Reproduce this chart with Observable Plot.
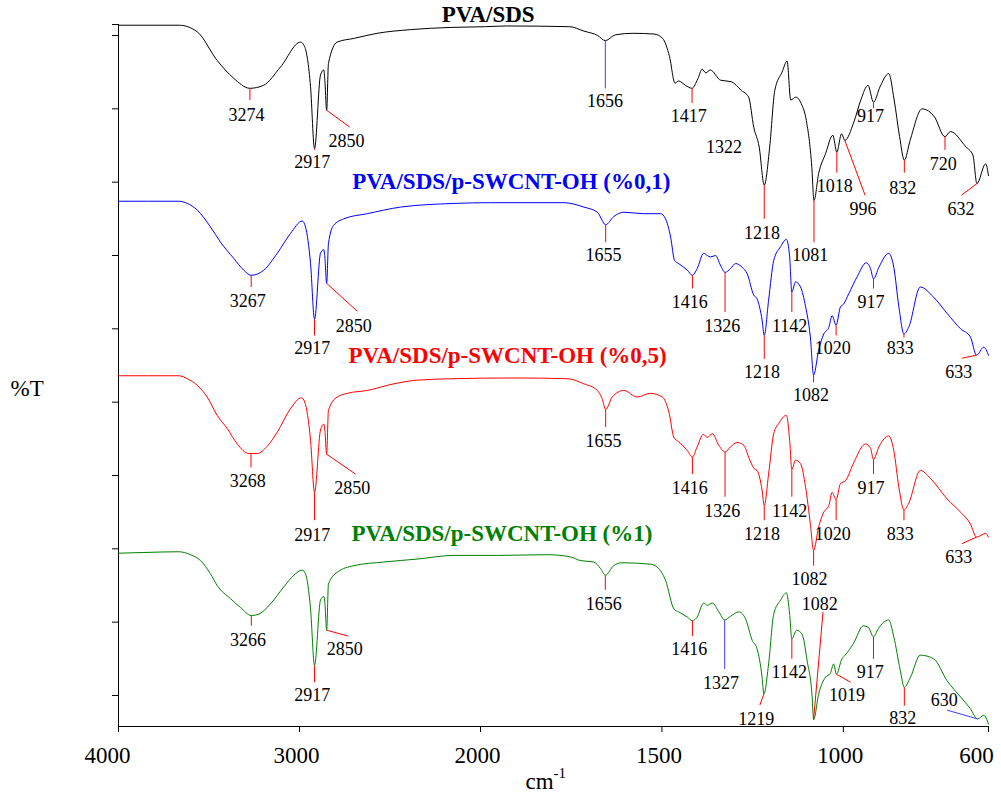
<!DOCTYPE html>
<html>
<head>
<meta charset="utf-8">
<script src="https://cdn.jsdelivr.net/npm/d3@7"></script>
<script src="https://cdn.jsdelivr.net/npm/@observablehq/plot@0.6"></script>
<style>
  html, body { margin: 0; padding: 0; background: #ffffff; }
  #chart svg { display: block; }
  #chart svg, #chart svg text { font-family: 'Liberation Serif', 'Times New Roman', Times, serif !important; }
</style>
</head>
<body>
<div id="chart"></div>
<script>
// FTIR spectra (wavenumber in cm-1, %T with a vertical offset per sample)

const pvaSds = [
  [4000,91.4],[3663,91.4],[3565,90.5],[3455,86.6],[3365,84.2],[3274,82.8],[3199,83.2],[3105,85.7],
  [2994,89.1],[2972,88.5],[2939,83.0],[2917,74.6],[2884,84.6],[2866,85.3],[2860,83.9],[2850,79.8],
  [2840,86.2],[2792,89.1],[2700,89.6],[2571,90.3],[2387,90.8],[2166,91.1],[1986,91.2],[1928,91.3],
  [1754,91.2],[1715,90.6],[1677,90.0],[1656,89.3],[1628,90.1],[1580,90.3],[1522,90.2],[1498,89.6],
  [1479,87.1],[1464,83.5],[1454,83.8],[1435,83.2],[1417,82.8],[1401,84.1],[1389,85.4],[1379,84.9],
  [1367,85.3],[1338,83.9],[1309,83.7],[1281,82.5],[1261,81.6],[1247,77.5],[1232,74.8],[1218,69.6],
  [1203,74.8],[1189,82.5],[1169,85.0],[1155,86.5],[1145,81.2],[1131,81.6],[1116,80.7],[1102,78.4],
  [1087,72.1],[1081,67.5],[1068,71.2],[1049,73.9],[1029,76.4],[1018,74.1],[1005,76.6],[996,75.7],
  [971,78.2],[952,81.2],[932,83.2],[917,80.9],[899,83.0],[875,84.8],[860,81.2],[845,76.2],
  [832,73.0],[816,75.7],[783,80.0],[749,78.9],[720,76.2],[705,76.9],[662,74.8],[643,73.7],
  [632,69.8],[608,72.5],[600,70.9]
];

const swcnt01 = [
  [4000,67.4],[3667,67.4],[3620,67.1],[3565,66.2],[3492,63.9],[3436,61.8],[3363,59.6],[3308,58.0],
  [3267,57.3],[3197,58.0],[3123,60.3],[3050,63.0],[2985,64.7],[2967,63.9],[2939,58.9],[2917,51.3],
  [2884,60.3],[2866,60.8],[2860,59.8],[2850,56.2],[2840,61.6],[2812,64.1],[2755,65.0],[2626,65.7],
  [2442,66.6],[2147,67.1],[1972,67.2],[1770,67.2],[1715,66.6],[1678,65.9],[1655,64.2],[1633,65.3],
  [1605,65.9],[1550,65.7],[1504,65.7],[1490,65.0],[1476,62.5],[1465,59.3],[1454,58.9],[1430,58.0],
  [1416,57.3],[1403,58.2],[1385,60.3],[1375,60.0],[1366,59.8],[1352,60.0],[1339,58.7],[1326,57.7],
  [1311,58.2],[1297,58.9],[1279,58.4],[1265,57.5],[1247,54.6],[1238,54.1],[1224,51.2],[1218,49.1],
  [1206,53.9],[1192,59.3],[1173,61.2],[1157,62.2],[1148,59.8],[1142,55.0],[1132,56.4],[1118,55.7],
  [1104,53.0],[1091,48.9],[1082,43.7],[1068,47.1],[1054,49.3],[1040,50.2],[1031,51.8],[1020,50.5],
  [1008,53.0],[999,53.4],[985,54.8],[962,57.1],[937,59.0],[925,58.2],[917,56.8],[902,58.4],
  [875,60.3],[861,58.4],[847,53.0],[833,49.3],[820,50.2],[788,55.7],[751,54.3],[714,52.1],
  [677,50.0],[650,48.9],[633,46.4],[613,47.5],[600,46.4]
];

const swcnt05 = [
  [4000,43.6],[3667,43.6],[3620,43.2],[3565,42.3],[3510,40.7],[3455,38.2],[3399,36.4],[3344,34.3],
  [3280,33.0],[3268,33.0],[3234,33.0],[3178,34.0],[3123,35.9],[3050,39.1],[2989,40.6],[2971,40.0],
  [2939,34.8],[2917,27.7],[2884,36.2],[2866,37.0],[2860,36.2],[2850,32.9],[2840,38.9],[2792,40.7],
  [2736,41.2],[2626,41.6],[2479,42.5],[2350,43.0],[2147,43.2],[1908,43.3],[1761,43.2],[1715,42.5],
  [1678,41.6],[1665,40.5],[1655,39.0],[1637,40.7],[1605,41.6],[1568,40.7],[1532,41.2],[1499,40.7],
  [1481,38.7],[1467,35.2],[1454,34.6],[1430,33.4],[1416,32.5],[1403,33.9],[1386,35.6],[1375,35.2],
  [1361,35.7],[1343,34.1],[1326,33.2],[1311,33.9],[1293,34.5],[1274,34.1],[1261,32.5],[1245,30.9],
  [1238,30.7],[1224,28.0],[1218,25.9],[1206,30.2],[1192,35.7],[1178,37.1],[1157,38.2],[1148,34.8],
  [1142,30.8],[1132,32.1],[1118,31.6],[1104,28.4],[1091,23.4],[1082,19.8],[1068,23.0],[1054,25.0],
  [1040,25.9],[1031,27.7],[1020,26.7],[1008,28.9],[994,29.3],[971,31.8],[939,34.3],[925,33.7],
  [917,32.2],[902,33.9],[875,35.4],[861,33.4],[847,28.4],[833,25.3],[820,26.2],[788,30.7],
  [760,29.6],[714,26.8],[677,25.0],[650,23.4],[633,21.6],[608,22.1],[600,21.6]
];

const swcnt1 = [
  [4000,19.4],[3860,19.5],[3667,19.6],[3602,19.2],[3547,18.4],[3492,16.6],[3455,15.0],[3381,13.2],
  [3326,12.0],[3266,10.9],[3224,11.1],[3160,12.5],[3087,14.8],[3031,16.4],[2985,17.1],[2967,16.6],
  [2939,11.8],[2917,4.1],[2884,13.0],[2866,13.5],[2860,12.7],[2850,8.9],[2840,15.2],[2792,16.8],
  [2700,17.7],[2534,18.2],[2350,18.6],[2147,19.1],[1954,19.1],[1816,19.2],[1752,18.9],[1725,18.4],
  [1688,18.2],[1669,17.3],[1656,16.4],[1633,17.7],[1610,18.1],[1532,17.9],[1513,17.5],[1490,15.7],
  [1467,11.8],[1454,11.4],[1430,10.7],[1416,10.2],[1403,10.7],[1385,12.6],[1375,12.3],[1361,12.6],
  [1343,11.4],[1327,10.3],[1311,10.8],[1288,11.4],[1270,10.5],[1251,7.5],[1238,6.4],[1224,2.5],
  [1219,0.2],[1206,4.3],[1192,11.1],[1173,13.0],[1157,14.0],[1148,11.1],[1142,7.7],[1129,8.9],
  [1114,8.4],[1100,4.8],[1086,-0.2],[1082,-3.3],[1068,0.2],[1049,2.5],[1036,3.0],[1027,4.3],
  [1019,2.9],[1004,5.0],[995,5.5],[972,7.1],[945,9.5],[931,9.3],[917,8.0],[904,9.1],
  [875,10.3],[861,8.0],[843,3.4],[832,1.1],[815,2.5],[788,5.5],[751,5.0],[714,2.0],
  [677,-0.2],[650,-1.8],[630,-3.2],[613,-2.7],[600,-3.9]
];

// Assigned band positions (cm-1)
const peaksPvaSds  = [3274, 2917, 2850, 1656, 1417, 1322, 1218, 1081, 1018, 996, 917, 832, 720, 632];
const peaksSwcnt01 = [3267, 2917, 2850, 1655, 1416, 1326, 1218, 1142, 1082, 1020, 917, 833, 633];
const peaksSwcnt05 = [3268, 2917, 2850, 1655, 1416, 1326, 1218, 1142, 1082, 1020, 917, 833, 633];
const peaksSwcnt1  = [3266, 2917, 2850, 1656, 1416, 1327, 1219, 1142, 1082, 1019, 917, 832, 630];

const sampleNames = [
  "PVA/SDS",
  "PVA/SDS/p-SWCNT-OH (%0,1)",
  "PVA/SDS/p-SWCNT-OH (%0,5)",
  "PVA/SDS/p-SWCNT-OH (%1)"
];

const xTicks = [4000, 3000, 2000, 1500, 1000, 600];
const yTicks = [0, 10, 20, 30, 40, 50, 60, 70, 80, 90, 91.5];

// ---- annotation layout (label anchor and leader end, in data units) ----
// [textX, textY, leaderX, leaderY, leaderColour]  (leaderX null = no leader)
const placePvaSds = [
  [3293,78.4,3274,81.2,"red"],[2930,71.9,2917,74.4,"red"],[2740,74.8,2722,77.5,"red"],
  [1657,80.3,1656,82.8,"blue"],[1426,78.2,1417,80.8,"red"],[1329,74.0,null,null,null],
  [1224,62.3,1218,65.0,"red"],[1091,59.2,1081,61.8,"red"],[1024,68.6,1018,71.3,"red"],
  [946,65.5,940,68.2,"red"],[925,78.2,917,80.1,"red"],[836,68.4,832,71.3,"red"],
  [725,71.6,720,74.4,"red"],[676,65.5,675,68.2,"red"]
];
const placeSwcnt01 = [
  [3286,53.0,3267,55.7,"red"],[2930,46.5,2917,49.1,"red"],[2700,49.6,2681,52.4,"red"],
  [1661,59.2,1655,61.8,"red"],[1423,52.8,1416,55.5,"red"],[1334,49.6,1326,52.3,"red"],
  [1224,43.3,1218,45.9,"red"],[1148,49.6,1142,52.3,"red"],[1089,40.2,1082,42.7,"red"],
  [1029,46.5,1020,49.1,"red"],[924,52.8,917,55.5,"red"],[843,46.5,833,48.8,"red"],
  [682,43.3,673,46.0,"red"]
];
const placeSwcnt05 = [
  [3286,28.4,3268,31.1,"red"],[2930,21.1,2917,23.9,"red"],[2709,27.5,2691,30.2,"red"],
  [1661,33.9,1655,36.6,"red"],[1423,27.5,1416,30.2,"red"],[1334,24.3,1326,27.1,"red"],
  [1224,21.2,1218,23.9,"red"],[1148,24.3,1142,27.1,"red"],[1093,15.0,1082,17.7,"red"],
  [1029,21.2,1020,23.9,"red"],[924,27.5,917,30.2,"red"],[843,21.2,833,23.9,"red"],
  [682,18.0,673,20.7,"red"]
];
const placeSwcnt1 = [
  [3284,6.8,3266,9.5,"red"],[2930,-0.8,2917,1.8,"red"],[2750,5.5,2731,8.1,"red"],
  [1660,11.7,1656,14.4,"red"],[1425,5.5,1416,8.1,"red"],[1337,0.9,1327,3.6,"blue"],
  [1240,-4.0,1230,-1.3,"red"],[1149,2.4,1142,5.0,"red"],[1065,11.7,1056,11.4,"red"],
  [990,-0.8,980,1.8,"red"],[926,2.4,917,5.0,"red"],[836,-3.9,832,-1.4,"red"],
  [722,-1.5,714,-2.0,"blue"]
];
// sample name anchors: [x, y, textAnchor]
const namePlace = [[1979, 91.8, "middle"], [2709, 69.0, "start"], [2729, 45.3, "start"], [2713, 21.0, "start"]];
const sampleColours = ["#000000", "#0000ff", "#ff0000", "#008000"];

const yMin = -4.23, yMax = 91.5;
const serif = "'Liberation Serif', 'Times New Roman', Times, serif";

const samples = [
  {values: pvaSds, peaks: peaksPvaSds, place: placePvaSds},
  {values: swcnt01, peaks: peaksSwcnt01, place: placeSwcnt01},
  {values: swcnt05, peaks: peaksSwcnt05, place: placeSwcnt05},
  {values: swcnt1, peaks: peaksSwcnt1, place: placeSwcnt1}
].map((s, i) => ({
  ...s,
  // ascending wavenumber order for the monotone curve
  sorted: s.values.slice().sort((a, b) => a[0] - b[0]),
  name: sampleNames[i], colour: sampleColours[i], anchor: namePlace[i]
}));

// %T of a spectrum at the recorded point nearest to a band position
const bandValue = (values, wn) =>
  values.reduce((best, d) => Math.abs(d[0] - wn) < Math.abs(best[0] - wn) ? d : best)[1];

const bands = samples.flatMap(s => s.peaks.map((wn, i) => {
  const [tx, ty, lx, ly, leader] = s.place[i];
  return {wn, y: bandValue(s.values, wn), tx, ty, lx, ly, leader};
}));

const tickText = {tickSize: 0, tickPadding: 20, fontSize: 23, fontFamily: serif, tickFormat: d => String(d), label: null};

const chart = Plot.plot({
  width: 1001,
  height: 798,
  marginTop: 24,
  marginBottom: 72,
  marginLeft: 118,
  marginRight: 13,
  style: {fontFamily: serif, background: "#ffffff", color: "#000000"},
  x: {type: "linear", domain: [4000, 2000, 600], range: [118, 480, 988]},
  y: {domain: [yMin, yMax]},
  marks: [
    // tick marks
    Plot.axisX({ticks: xTicks, tickSize: 6, tickFormat: () => "", label: null}),
    Plot.axisY({ticks: yTicks, tickSize: 6, tickFormat: () => "", label: null}),
    // tick labels (end labels pulled inward)
    Plot.axisX({...tickText, ticks: xTicks.slice(1, -1), dx: -3}),
    Plot.axisX({...tickText, ticks: xTicks.slice(0, 1), dx: -11}),
    Plot.axisX({...tickText, ticks: xTicks.slice(-1), dx: -12}),
    Plot.ruleY([yMin], {stroke: "#000000"}),
    Plot.ruleX([4000], {stroke: "#000000"}),
    ...samples.map(s => Plot.line(s.sorted, {
      x: d => d[0], y: d => d[1], stroke: s.colour, strokeWidth: 1, curve: "monotone-x"
    })),
    Plot.link(bands.filter(b => b.leader === "red"), {x1: "wn", y1: "y", x2: "lx", y2: "ly", stroke: "#ff0000", strokeWidth: 1}),
    Plot.link(bands.filter(b => b.leader === "blue"), {x1: "wn", y1: "y", x2: "lx", y2: "ly", stroke: "#3b3bff", strokeWidth: 1}),
    Plot.text(bands, {x: "tx", y: "ty", text: d => String(d.wn), fontSize: 18, fontFamily: serif, lineAnchor: "bottom", fill: "#000000"}),
    ...samples.map(s => Plot.text([s.name], {
      x: [s.anchor[0]], y: [s.anchor[1]], textAnchor: s.anchor[2],
      fill: s.colour, fontSize: 23, fontWeight: "bold", fontFamily: serif, lineAnchor: "bottom"
    })),
    Plot.text(["%T"], {frameAnchor: "left", y: [40.9], dx: -108, textAnchor: "start", fontSize: 23, fontFamily: serif, lineAnchor: "bottom"}),
    Plot.text(["cm"], {x: [1876], frameAnchor: "bottom", dy: 62, textAnchor: "start", fontSize: 23, fontFamily: serif, lineAnchor: "bottom"}),
    Plot.text(["-1"], {x: [1799], frameAnchor: "bottom", dy: 51, textAnchor: "start", fontSize: 15, fontFamily: serif, lineAnchor: "bottom"})
  ]
});

document.getElementById("chart").appendChild(chart);
</script>
</body>
</html>
